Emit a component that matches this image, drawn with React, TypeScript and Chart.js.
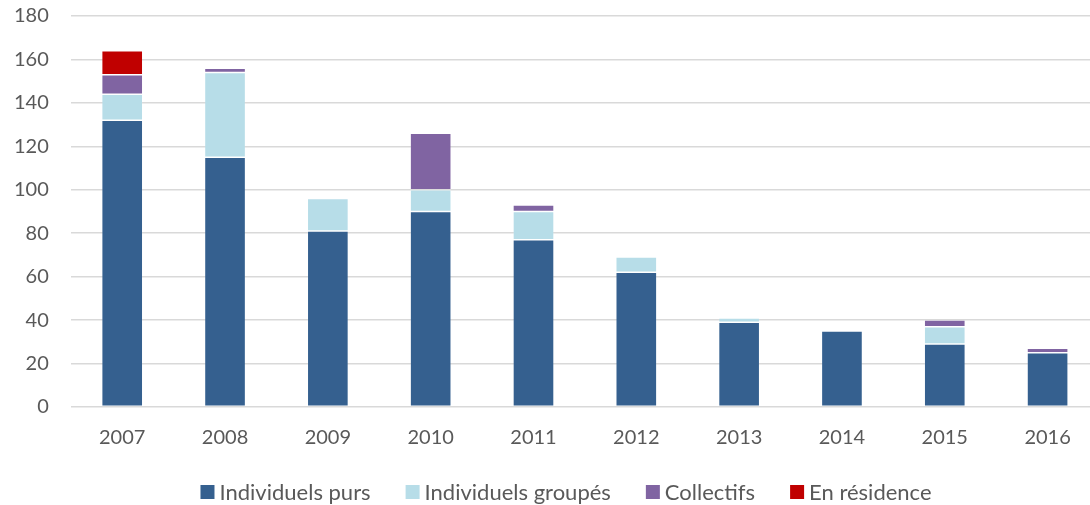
import React, { useEffect, useRef } from "react";
import { Chart, registerables } from "chart.js";

Chart.register(...registerables);

const years = ["2007", "2008", "2009", "2010", "2011", "2012", "2013", "2014", "2015", "2016"];
const individuelsPurs = [132, 115, 81, 90, 77, 62, 39, 35, 29, 25];
const individuelsGroupes = [12, 39, 15, 10, 13, 7, 2, 0, 8, 0];
const collectifs = [9, 2, 0, 26, 3, 0, 0, 0, 3, 2];
const enResidence = [11, 0, 0, 0, 0, 0, 0, 0, 0, 0];
const yTicks = [0, 20, 40, 60, 80, 100, 120, 140, 160, 180];

const FONT = "Lato, 'Open Sans', sans-serif";
const TEXT = "#595959";

// The plot area runs past the right edge of the visible frame, so the canvas is wider
// and shifted up a little to put the top gridline close to the frame's top edge.
const CANVAS_W = 1110;
const CANVAS_H = 523;
const OFFSET_Y = -18;

// Legend row: small square swatch, tight gap to the text, wide gap between entries.
const LEGEND = { box: 14, textGap: 5, itemGap: 35, centerX: 566, centerY: 510, size: 22 };

const bottomLegend = {
  id: "bottomLegend",
  afterDraw(chart: any) {
    const ctx = chart.ctx as CanvasRenderingContext2D;
    const items = chart.data.datasets.map((ds: any) => ({
      text: ds.label as string,
      color: ds.backgroundColor as string,
    }));
    ctx.save();
    ctx.font = `${LEGEND.size}px ${FONT}`;
    ctx.textBaseline = "middle";
    ctx.textAlign = "left";
    const widths = items.map((it: any) => LEGEND.box + LEGEND.textGap + ctx.measureText(it.text).width);
    const total = widths.reduce((a: number, b: number) => a + b, 0) + LEGEND.itemGap * (items.length - 1);
    let x = LEGEND.centerX - total / 2;
    items.forEach((it: any, i: number) => {
      ctx.fillStyle = it.color;
      ctx.fillRect(x, LEGEND.centerY - LEGEND.box / 2, LEGEND.box, LEGEND.box);
      ctx.fillStyle = TEXT;
      ctx.fillText(it.text, x + LEGEND.box + LEGEND.textGap, LEGEND.centerY + 1);
      x += widths[i] + LEGEND.itemGap;
    });
    ctx.restore();
  },
};

export default function App() {
  const canvasRef = useRef<HTMLCanvasElement | null>(null);

  useEffect(() => {
    const canvas = canvasRef.current;
    if (!canvas) return;
    const bar = (label: string, data: number[], color: string) => ({
      label,
      data,
      backgroundColor: color,
      borderColor: "rgba(255,255,255,0.15)",
      borderWidth: 0.75,
      borderSkipped: false as const,
      barPercentage: 0.4,
      categoryPercentage: 1,
    });
    const chart = new Chart(canvas, {
      type: "bar",
      data: {
        labels: years,
        datasets: [
          bar("Individuels purs", individuelsPurs, "#35608F"),
          bar("Individuels groupés", individuelsGroupes, "#B7DDE8"),
          bar("Collectifs", collectifs, "#8064A2"),
          bar("En résidence", enResidence, "#C00000"),
        ],
      },
      plugins: [bottomLegend],
      options: {
        animation: false,
        responsive: false,
        layout: { padding: { top: 0, right: 11, left: -8, bottom: 44 } },
        plugins: {
          tooltip: { enabled: false },
          legend: { display: false },
        },
        scales: {
          x: {
            stacked: true,
            grid: { display: false },
            border: { display: false },
            ticks: { color: TEXT, font: { family: FONT, size: 20 }, padding: 11 },
          },
          y: {
            stacked: true,
            min: 0,
            max: 180,
            afterBuildTicks: (axis: any) => {
              axis.ticks = yTicks.map((v) => ({ value: v }));
            },
            grid: { color: "#D9D9D9", lineWidth: 1.5, drawTicks: false },
            border: { display: false },
            ticks: { color: TEXT, font: { family: FONT, size: 20 }, padding: 22 },
          },
        },
      },
    });
    return () => chart.destroy();
  }, []);

  return (
    <div style={{ position: "fixed", left: 0, top: OFFSET_Y, width: CANVAS_W, height: CANVAS_H, background: "#fff" }}>
      <canvas ref={canvasRef} width={CANVAS_W} height={CANVAS_H} />
    </div>
  );
}
